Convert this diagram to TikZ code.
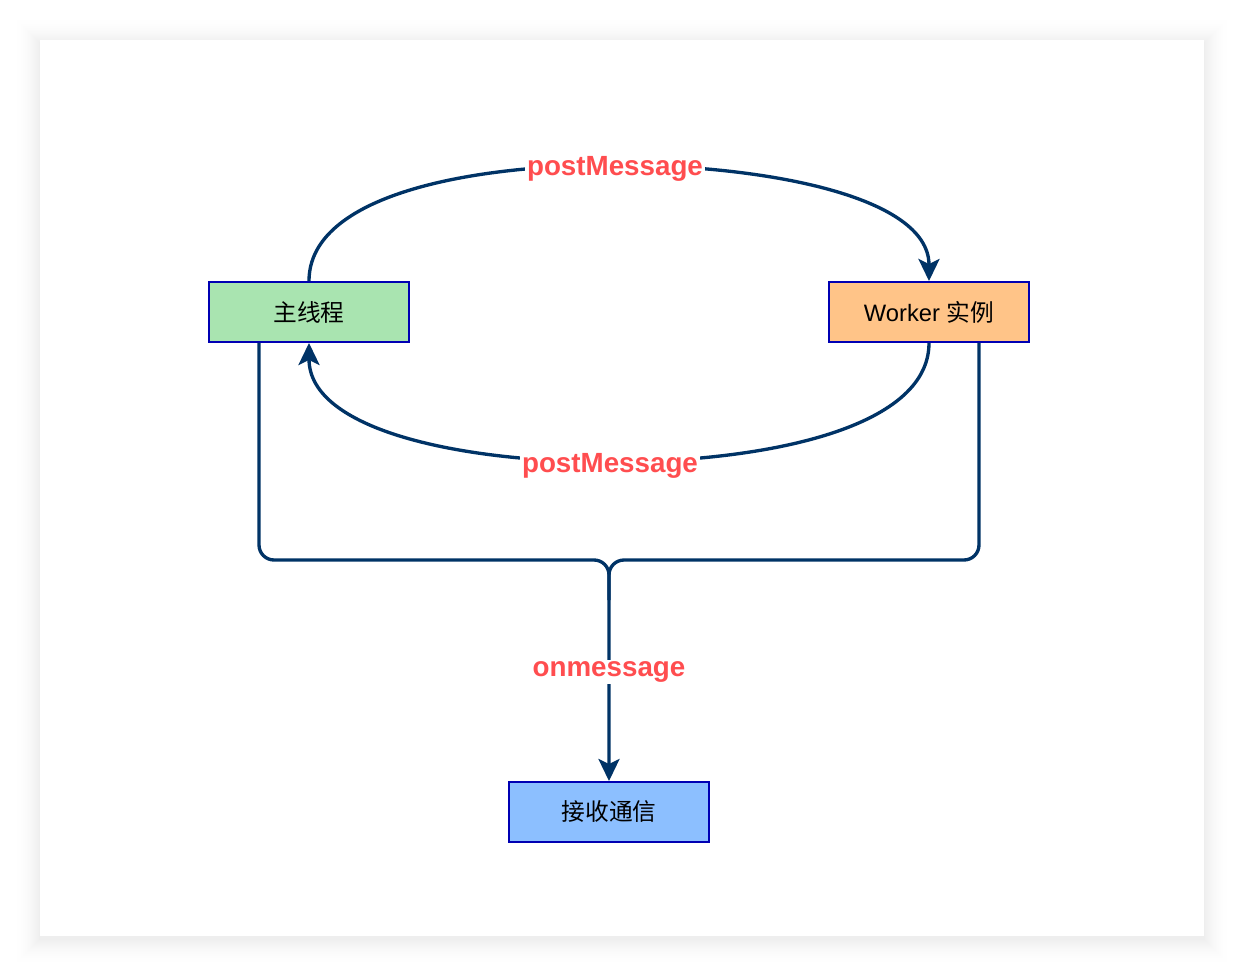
\documentclass[tikz,border=0pt]{standalone}
\usepackage{fontspec}
\setmainfont{Liberation Sans}
\newfontfamily\cjk{Noto Sans CJK SC}
\usetikzlibrary{arrows.meta}

\definecolor{edgeblue}{HTML}{003366}
\definecolor{boxline}{HTML}{0000B3}
\definecolor{labelred}{HTML}{FF4D4F}
\definecolor{mainfill}{HTML}{A9E4B0}
\definecolor{workerfill}{HTML}{FFC488}
\definecolor{recvfill}{HTML}{8CBFFF}

\begin{document}
\begin{tikzpicture}[x=0.02cm,y=-0.02cm,
		box/.style={draw=boxline,line width=1.1pt,minimum width=4cm,minimum height=1.2cm,inner sep=0pt,font=\fontsize{13.5}{16}\selectfont},
		link/.style={draw=edgeblue,line width=1.9pt,-{Stealth[length=0.44cm,width=0.42cm,inset=0.1cm]}},
		msg/.style={fill=white,text=labelred,inner sep=1pt,yshift=-0.08cm,font=\fontsize{15.8}{18}\selectfont\bfseries}]
				% page and card with a soft shadow
				\fill [white] (0,0) rectangle (1244,976);
				\useasboundingbox (0,0) rectangle (1244,976);
				\foreach \i in {26,...,1}{
					\pgfmathsetmacro\shade{7*(1-\i/27)^2}
					\fill [black!\shade] (40-\i,43-\i) rectangle (1204+\i,939+\i);
				}
				\fill [white] (40,40) rectangle (1204,936);
				% nodes
				\node [box,fill=mainfill] (main) at (309,312) {\cjk 主线程};
				\node [box,fill=workerfill] (worker) at (929,312) {Worker {\cjk 实例}};
				\node [box,fill=recvfill] (recv) at (609,812) {\cjk 接收通信};
				\coordinate (join) at (609,560);
				% postMessage both ways
				\draw [link] (main.north) .. controls (309,195) and (470,165) .. (615,165)
					node [msg] (send) {postMessage}
					.. controls (760,165) and (929,195) .. (worker.north);
				\draw [link] (worker.south) .. controls (929,430) and (760,462) .. (610,462)
					node [msg] (reply) {postMessage}
					.. controls (460,462) and (309,430) .. (main.south);
				% onmessage
				\draw [draw=edgeblue,line width=1.9pt,rounded corners=0.3cm] ([xshift=-1cm]main.south) |- (join) -- ++(0,40);
				\draw [link,rounded corners=0.3cm] ([xshift=1cm]worker.south) |- (join) -- (recv.north);
				\node [msg] (listen) at (609,668) {onmessage};
			\end{tikzpicture}
\end{document}
